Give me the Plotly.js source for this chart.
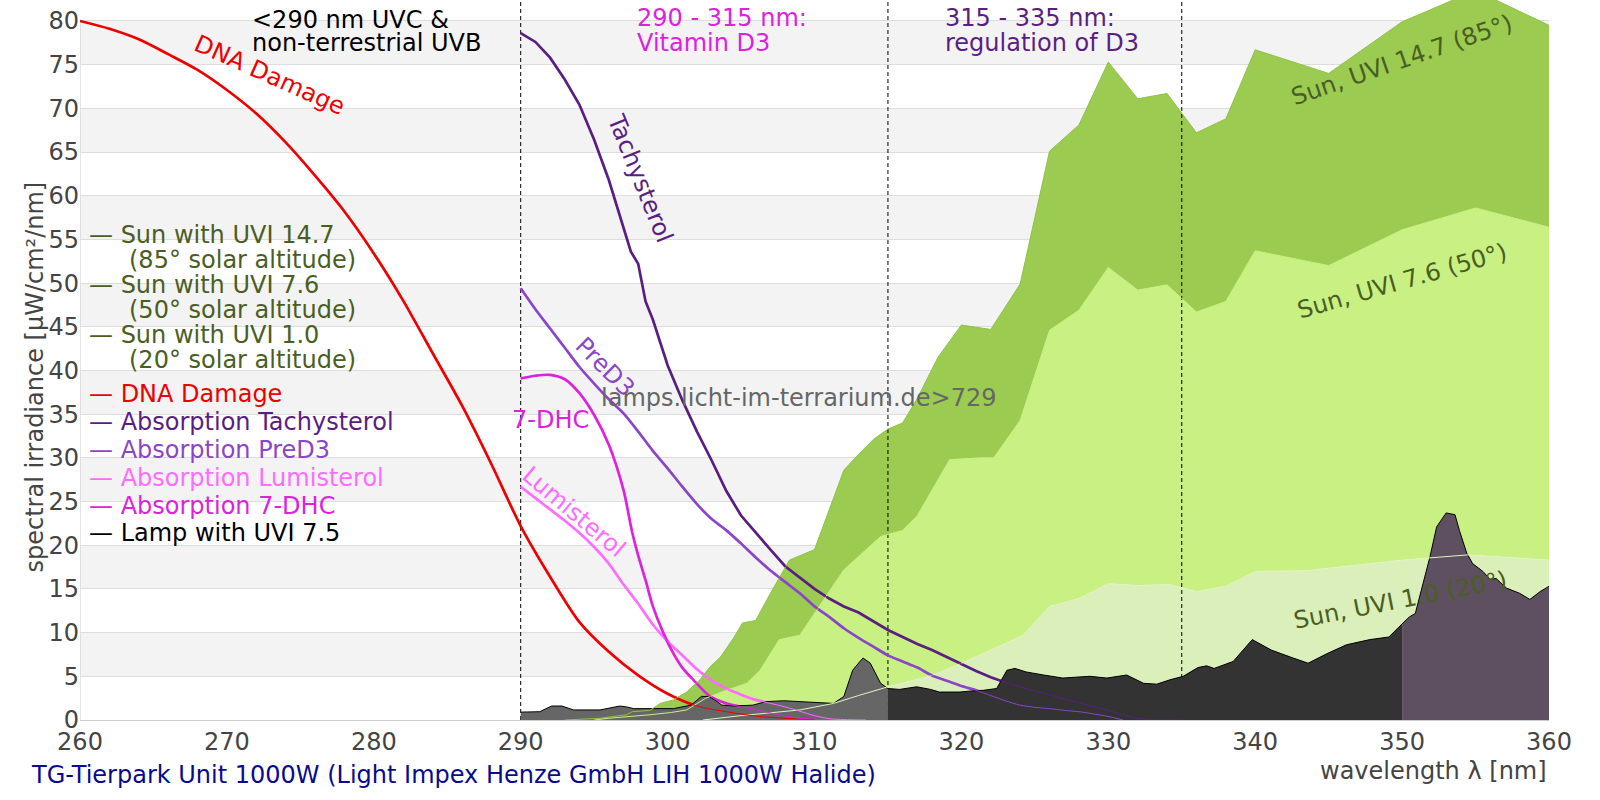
<!DOCTYPE html>
<html>
<head>
<meta charset="utf-8">
<script src="https://cdn.plot.ly/plotly-3.0.1.min.js"></script>
<style>
  html, body { margin: 0; padding: 0; background: #fff; }
  #chart { width: 1600px; height: 800px; }
</style>
</head>
<body>
<div id="chart"></div>
<script>
// ---- data (wavelength nm / µW/cm²/nm) ----
const dnaNm  = [260, 262, 264, 266, 268, 270, 272, 274, 276, 278, 280, 282, 284, 286, 288, 290, 292, 294, 296, 298, 300, 302, 304, 306, 308, 310];
const dnaVal = [80, 79.1, 77.9, 76.2, 74.4, 72.1, 69.4, 66.1, 62.3, 58.2, 53.4, 48.0, 42.0, 36.0, 29.3, 22.2, 16.4, 11.2, 7.8, 5.1, 3.0, 1.6, 0.95, 0.45, 0.2, 0.05];

const tachyNm  = [290, 291, 292, 293, 294, 295, 296, 297, 297.5, 298, 298.5, 299, 300, 301, 302, 303, 304, 305, 306, 307, 308, 309, 310, 311, 312, 313, 314, 315, 316, 317, 318, 319, 320, 321, 322, 323, 324, 325, 326, 327, 328, 329, 330, 331, 332, 333, 335];
const tachyVal = [78.6, 77.6, 75.8, 73.3, 70.4, 66.4, 61.8, 56.5, 53.6, 52.2, 47.9, 45.8, 40.6, 36.6, 33.0, 29.7, 26.2, 23.4, 21.4, 19.5, 17.6, 16.3, 15.0, 13.9, 13.0, 12.3, 11.3, 10.3, 9.5, 8.7, 8.0, 7.2, 6.4, 5.6, 4.9, 4.3, 3.8, 3.3, 2.9, 2.4, 2.0, 1.5, 1.1, 0.6, 0.2, 0, 0];

const preNm  = [290, 291, 292, 293, 294, 295, 296, 297, 298, 299, 300, 301, 302, 303, 304, 305, 306, 307, 308, 309, 310, 311, 312, 313, 314, 315, 316, 317, 318, 319, 320, 321, 322, 323, 324, 325, 326, 327, 328, 329, 330, 331];
const preVal = [49.4, 47.0, 44.8, 42.6, 40.4, 38.5, 36.7, 35.1, 33.0, 30.8, 28.8, 26.7, 24.7, 23.0, 21.7, 20.2, 18.6, 17.1, 15.8, 14.5, 13.0, 11.8, 10.5, 9.4, 8.4, 7.4, 6.7, 6.0, 5.1, 4.5, 3.9, 3.4, 2.8, 2.2, 1.7, 1.45, 1.3, 1.1, 0.95, 0.7, 0.4, 0];

const lumiNm  = [290, 291, 292, 293, 294, 295, 296, 297, 298, 299, 300, 301, 302, 303, 304, 305, 306, 307, 308, 309, 310, 311, 312, 313.5];
const lumiVal = [26.7, 25.4, 24.1, 22.8, 21.4, 19.8, 17.9, 15.5, 13.3, 10.9, 9.0, 7.4, 5.8, 4.5, 3.6, 2.9, 2.3, 1.9, 1.5, 1.0, 0.5, 0.15, 0.05, 0];

const dhcNm  = [290, 291, 292, 293, 294, 295, 296, 297, 297.6, 298, 298.5, 299, 299.7, 300.4, 301, 301.75, 302.9, 304, 305, 306, 307, 308, 309, 310, 311];
const dhcVal = [39.1, 39.4, 39.5, 39.0, 37.4, 34.9, 31.5, 26.3, 21.4, 18.8, 16.0, 13.0, 10.0, 7.6, 6.0, 4.6, 2.7, 1.9, 1.5, 1.2, 0.8, 0.45, 0.2, 0.1, 0];

const sun147Nm  = [293, 295.4, 297.2, 297.6, 298.8, 299.5, 300.4, 301.3, 302.2, 302.9, 303.6, 304.5, 305.1, 306, 307, 308.3, 310, 312, 313, 314, 315, 316, 317, 318.4, 320, 322, 324, 326, 328, 330, 332, 334, 336, 338, 340, 345, 350, 355, 360];
const sun147Val = [0, 0.2, 0.6, 0.95, 1.1, 1.9, 2.3, 3.2, 4.6, 6.1, 7.2, 9.4, 11.1, 11.4, 14.5, 18.3, 19.5, 28.6, 30.4, 32.1, 33.3, 34.0, 36.8, 41.5, 45.2, 44.7, 49.9, 65.1, 68.1, 75.3, 71.1, 71.7, 67.2, 68.8, 76.7, 74.0, 79.9, 83.5, 79.5];

const sun76Nm  = [295, 296, 298.8, 300.2, 301.3, 302.6, 304, 305.4, 306.3, 307.6, 309, 312, 314.5, 316, 317, 319.2, 321.3, 322.2, 324, 326, 328, 330, 332, 334, 336, 338, 340, 345, 350, 355, 360];
const sun76Val = [0, 0.2, 0.6, 0.85, 1.15, 2.5, 3.4, 4.2, 5.7, 9.2, 9.7, 17.2, 21.0, 21.7, 23.4, 29.8, 30.0, 30.0, 34.3, 44.6, 46.9, 51.8, 49.2, 49.8, 46.7, 47.9, 53.7, 52.0, 56.1, 58.6, 56.4];

const sun10Nm  = [302.4, 305, 309, 311.3, 313, 315, 318, 320, 322, 324.2, 326, 328, 330, 332, 334.2, 336, 338, 340, 343.5, 350, 354.5, 360];
const sun10Val = [0, 0.5, 1.15, 1.9, 2.8, 3.8, 5.1, 6.5, 8.0, 9.7, 13.0, 13.9, 15.6, 15.4, 15.5, 14.7, 15.3, 17.0, 17.1, 18.3, 18.9, 18.3];

const lampNm  = [290, 291.3, 292.1, 292.8, 293.6, 295.4, 296.75, 297.2, 297.7, 299, 300.4, 301.6, 302.3, 302.8, 303.2, 303.7, 304.5, 305.8, 306.7, 307.9, 309, 310.4, 311.3, 312, 312.6, 313.3, 313.8, 314.5,
                 315, 315.8, 316.95, 317.9, 318.5, 319.9, 320.5, 321.5, 322.4, 323.1, 323.65, 324.4, 325.6, 326.9, 327.8, 328.75, 329.9, 331.25, 332.4, 333.3, 334.2, 335.1, 336.1, 336.7, 337.2, 338.5, 339.8, 341.1, 342.4, 343.6, 344.9, 346.2, 347.8, 349.1,
                 350, 350.5, 350.9, 351.4, 351.9, 352.35, 353, 353.6, 353.9, 354.4, 354.8, 355.5, 356, 356.4, 357.1, 358, 358.7, 359.4, 360];
const lampVal = [0.9, 0.95, 1.6, 1.6, 1.15, 1.15, 1.6, 1.5, 1.3, 1.3, 1.3, 1.7, 2.7, 2.7, 2.3, 1.7, 1.6, 1.7, 2.1, 2.2, 2.1, 1.9, 1.9, 2.7, 5.7, 7.1, 6.5, 4.2,
                 3.6, 3.5, 3.8, 3.5, 3.2, 3.2, 3.3, 3.4, 3.6, 5.7, 5.9, 5.5, 5.15, 4.8, 4.9, 5.0, 4.8, 5.15, 4.2, 4.1, 4.6, 5.0, 6.0, 6.2, 5.9, 6.7, 9.2, 8.0, 7.2, 6.5, 7.6, 8.6, 9.2, 9.5,
                 11.0, 11.8, 12.2, 15.3, 18.7, 22.1, 23.7, 23.5, 21.7, 19.1, 17.9, 17.0, 16.1, 16.2, 15.1, 14.5, 13.8, 14.7, 15.3];

// lamp colour zones and the D3 region borders
const lampZones   = [[290, 315, '#666666'], [315, 350, '#333333'], [350, 360, '#5e5060']];
const regionLines = [290, 315, 335];
const yTicks = [0, 5, 10, 15, 20, 25, 30, 35, 40, 45, 50, 55, 60, 65, 70, 75, 80];

const FONT = 'DejaVu Sans, sans-serif';
const FS = 24;
const Y_TOP = 82.4;
const C = {
  sun: '#4a5e23', dna: '#ee0000', tachy: '#5a1e82', pre: '#8b45c8',
  lumi: '#ff6cff', dhc: '#dd22dd',
  sun147: '#9bcb50', sun76: '#c8f082', sun10: '#daefb9',
};

function fillTrace(x, y, color) {
  return { x, y, type: 'scatter', mode: 'lines', fill: 'tozeroy', fillcolor: color,
           line: { width: 0, color }, hoverinfo: 'skip' };
}
function lineTrace(x, y, color, width, shape) {
  return { x, y, type: 'scatter', mode: 'lines',
           line: { color, width, shape: shape || 'linear', smoothing: 0.8 }, hoverinfo: 'skip' };
}

const absorption = [
  [dnaNm, dnaVal, C.dna, 'spline'], [tachyNm, tachyVal, C.tachy, 'linear'], [preNm, preVal, C.pre, 'spline'],
  [lumiNm, lumiVal, C.lumi, 'spline'], [dhcNm, dhcVal, C.dhc, 'spline'],
];

const traces = [];
traces.push(fillTrace(sun147Nm, sun147Val, C.sun147));
traces.push(fillTrace(sun76Nm, sun76Val, C.sun76));
traces.push(fillTrace(sun10Nm, sun10Val, C.sun10));
for (const b of regionLines) {
  traces.push({ x: [b, b], y: [0, Y_TOP], type: 'scatter', mode: 'lines',
                line: { color: '#000', width: 1, dash: '4px,3px' }, hoverinfo: 'skip' });
}
// thick curves first, the lamp covers them, thin copies go on top again
for (const [x, y, c, s] of absorption) traces.push(lineTrace(x, y, c, 2.7, s));
for (const [lo, hi, color] of lampZones) {
  const xs = [], ys = [];
  lampNm.forEach((nm, i) => { if (nm >= lo && nm <= hi) { xs.push(nm); ys.push(lampVal[i]); } });
  traces.push({ x: xs, y: ys, type: 'scatter', mode: 'lines', fill: 'tozeroy', fillcolor: color,
                line: { color: '#000', width: 1 }, hoverinfo: 'skip' });
}
traces.push(lineTrace(sun147Nm, sun147Val, '#8fc245', 1));
traces.push(lineTrace(sun76Nm, sun76Val, '#c8f082', 1));
traces.push(lineTrace(sun10Nm, sun10Val, '#e4f4c4', 1));
for (const [x, y, c, s] of absorption) traces.push(lineTrace(x, y, c, 1, s));

// grey bands and the short left axis line
const shapes = [];
for (let v = 5; v < 80; v += 10) {
  shapes.push({ type: 'rect', xref: 'x', yref: 'y', x0: 260, x1: 360, y0: v, y1: v + 5,
                fillcolor: '#f3f3f3', line: { width: 0 }, layer: 'below' });
}
shapes.push({ type: 'line', xref: 'x', yref: 'y', x0: 260, x1: 260, y0: 0, y1: 80,
              line: { color: '#cccccc', width: 1 }, layer: 'below' });

function note(text, x, y, color, extra) {
  return Object.assign({ text, x, y, xref: 'x', yref: 'y', showarrow: false,
                         font: { family: FONT, size: FS, color } }, extra || {});
}
const L = { xanchor: 'left', yanchor: 'middle' };

const annotations = [
  // legend, written as text
  note('— Sun with UVI 14.7', 260.45, 55.5, C.sun, L),
  note('(85° solar altitude)', 263.2, 52.64, C.sun, L),
  note('— Sun with UVI 7.6', 260.45, 49.78, C.sun, L),
  note('(50° solar altitude)', 263.2, 46.92, C.sun, L),
  note('— Sun with UVI 1.0', 260.45, 44.06, C.sun, L),
  note('(20° solar altitude)', 263.2, 41.2, C.sun, L),
  note('— DNA Damage', 260.45, 37.31, C.dna, L),
  note('— Absorption Tachysterol', 260.45, 34.14, C.tachy, L),
  note('— Absorption PreD3', 260.45, 30.9, C.pre, L),
  note('— Absorption Lumisterol', 260.45, 27.7, C.lumi, L),
  note('— Absorption 7-DHC', 260.45, 24.52, C.dhc, L),
  note('— Lamp with UVI 7.5', 260.45, 21.4, '#000', L),
  // region headers
  note('&lt;290 nm UVC &amp;', 271.6, 80.1, '#000', L),
  note('non-terrestrial UVB', 271.6, 77.48, '#000', L),
  note('290 - 315 nm:', 297.75, 80.34, C.dhc, L),
  note('Vitamin D3', 297.75, 77.44, C.dhc, L),
  note('315 - 335 nm:', 318.75, 80.34, C.tachy, L),
  note('regulation of D3', 318.75, 77.44, C.tachy, L),
  // curve labels
  note('DNA Damage', 272.9, 73.85, C.dna, { textangle: 24 }),
  note('Tachysterol', 298.12, 62.03, C.tachy, { textangle: 68 }),
  note('PreD3', 295.74, 40.4, C.pre, { textangle: 45 }),
  note('7-DHC', 292.0, 34.33, C.dhc),
  note('Lumisterol', 293.63, 23.8, C.lumi, { textangle: 40 }),
  note('lamps.licht-im-terrarium.de&gt;729', 308.95, 36.85, '#666666'),
  note('Sun, UVI 14.7 (85°)', 350.0, 75.5, C.sun, { textangle: -19 }),
  note('Sun, UVI 7.6 (50°)', 350.05, 50.2, C.sun, { textangle: -16 }),
  note('Sun, UVI 1.0 (20°)', 349.92, 13.73, C.sun, { textangle: -11 }),
  // axis titles and caption
  { text: 'wavelength λ [nm]', xref: 'paper', yref: 'paper', x: 1, y: -0.0708,
    xanchor: 'right', yanchor: 'middle', showarrow: false, font: { family: FONT, size: FS, color: '#444' } },
  { text: 'spectral irradiance [µW/cm²/nm]', xref: 'paper', yref: 'paper', x: -0.0415, y: 0.4757,
    textangle: -90, showarrow: false, font: { family: FONT, size: FS, color: '#444' } },
  { text: 'TG-Tierpark Unit 1000W (Light Impex Henze GmbH LIH 1000W Halide)', xref: 'paper', yref: 'paper',
    x: -0.0345, y: -0.0764, xanchor: 'left', yanchor: 'middle', showarrow: false,
    font: { family: FONT, size: FS, color: '#0a0a8c' } },
];

const layout = {
  width: 1600, height: 800,
  margin: { l: 80, r: 51, t: 0, b: 80 },
  paper_bgcolor: '#fff', plot_bgcolor: '#fff',
  showlegend: false, hovermode: false,
  font: { family: FONT, size: FS, color: '#444' },
  xaxis: {
    range: [260, 360], tick0: 260, dtick: 10, showgrid: false, zeroline: false,
    showline: true, linecolor: '#cccccc', linewidth: 1, ticks: '',
    tickfont: { family: FONT, size: FS, color: '#444' }, fixedrange: true,
  },
  yaxis: {
    range: [0, Y_TOP], tickvals: yTicks, showgrid: true, gridcolor: '#dddddd', gridwidth: 1,
    zeroline: false, showline: false, ticks: '',
    tickfont: { family: FONT, size: FS, color: '#444' }, fixedrange: true,
  },
  shapes,
  annotations,
};

Plotly.newPlot('chart', traces, layout, { staticPlot: true, displayModeBar: false });
</script>
</body>
</html>
